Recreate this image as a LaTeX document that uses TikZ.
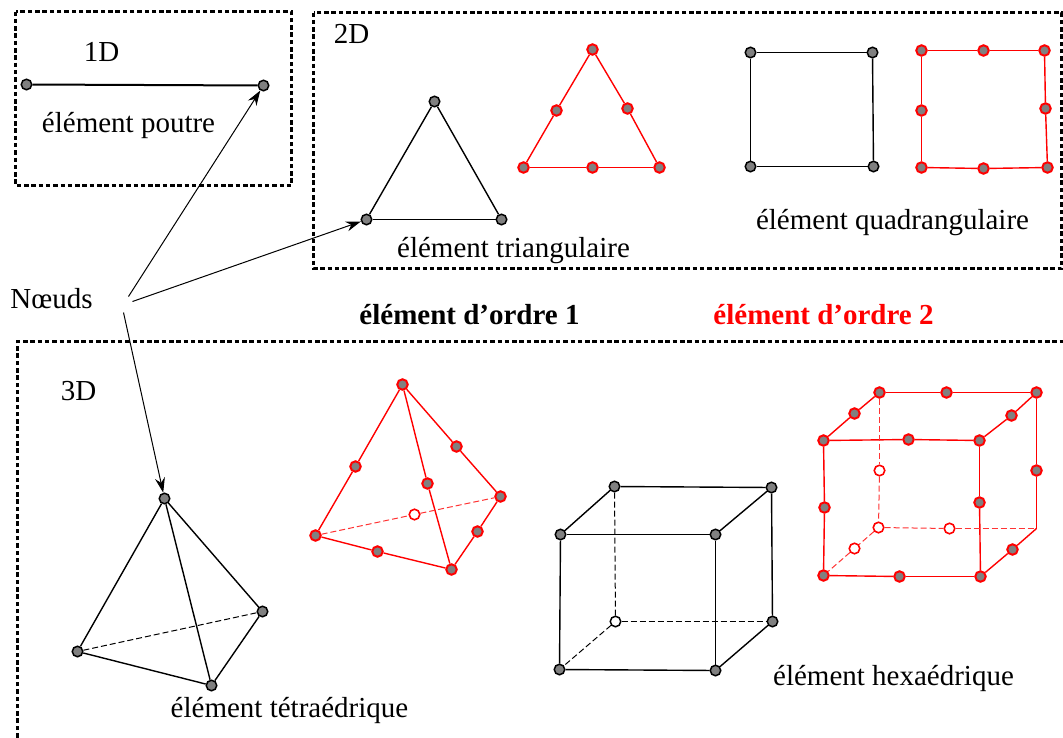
\documentclass[tikz,border=0pt]{standalone}
\usepackage{fontspec}
\setmainfont{Liberation Serif}
\usetikzlibrary{arrows.meta}
\tikzset{
  cadre/.style={line width=2.4pt,dash pattern=on 4.5pt off 2.8pt},
  noir/.style={circle,draw=black,fill=gray,line width=1.5pt,inner sep=0pt,minimum size=10.5pt},
  rouge/.style={circle,draw=red,fill=gray,line width=2pt,inner sep=0pt,minimum size=10.5pt},
  vide/.style={circle,draw=red,fill=white,line width=1.6pt,inner sep=0pt,minimum size=10.5pt},
  videnoir/.style={circle,draw=black,fill=white,line width=1.5pt,inner sep=0pt,minimum size=10.5pt},
  arete/.style={line width=1.4pt},
  cachee/.style={line width=1pt,dash pattern=on 6pt off 3pt},
  texte/.style={font=\fontsize{29}{34}\selectfont,yshift=-1.5pt},
  fleche/.style={-{Stealth[length=15pt,width=10pt,inset=5pt]},line width=1pt}
}
\begin{document}
\begin{tikzpicture}[x=1pt,y=-1pt]
  \useasboundingbox (-0.5,-0.5) rectangle (1062.5,736.5);
  % cadres
  \draw[cadre] (15,11) rectangle (291,185);
  \draw[cadre] (313,12) rectangle (1061,268);
  \draw[cadre] (17,737) -- (17,341) -- (1063,341);

  % textes
  \node[texte] (un) at (101,50) {1D};
  \node[texte] (deux) at (351,32) {2D};
  \node[texte] (trois) at (78,389) {3D};
  \node[texte] (poutre) at (128,124) {élément poutre};
  \node[texte] (triang) at (513,249) {élément triangulaire};
  \node[texte] (quad) at (892,221) {élément quadrangulaire};
  \node[texte] (noeuds) at (51,296.5) {Nœuds};
  \node[texte,font=\fontsize{29}{34}\selectfont\bfseries] (ordreun) at (469,312.5) {élément d’ordre 1};
  \node[texte,font=\fontsize{29}{34}\selectfont\bfseries,text=red] (ordredeux) at (823,312.5) {élément d’ordre 2};
  \node[texte] (tetra) at (289,708) {élément tétraédrique};
  \node[texte] (hexa) at (893,676) {élément hexaédrique};

  % noeuds noirs
  \foreach \n/\x/\y in {p1/26/84,p2/263/85,
    t1/366/219,t2/501/219,t3/434/101,
    q1/750/52,q2/872/52,q3/750/166,q4/873/166,
    a1/164/498,a2/77/651,a3/211/685,a4/262/611,
    c1/560/534,c2/715/534,c3/559/669,c4/715/670,
    c5/614/486,c6/771/487,c8/772/621}
    \node[noir] (\n) at (\x,\y) {};
  \node[videnoir] (c7) at (615,621) {};

  % noeuds rouges
  \foreach \n/\x/\y in {rt1/523/167,rt2/659/167,rt3/592/49,rt4/592/167,rt5/556/110,rt6/627/108,
    rq1/921/50,rq2/1044/50,rq3/921/167,rq4/1047/167,rq5/983/50,rq6/983/168,rq7/921/110,rq8/1045/108,
    ra1/402/384,ra2/315/535,ra3/451/569,ra4/500/496,ra5/355/466,ra6/427/483,ra7/456/446,ra8/377/551,ra9/477/531,
    rc1/823/440,rc2/979/440,rc3/823/575,rc4/980/576,rc5/879/392,rc6/1036/392,
    rc9/908/439,rc10/946/392,rc11/854/413,rc12/1011/415,rc13/824/507,rc14/979/502,
    rc15/1036/470,rc17/899/576,rc18/1012/549}
    \node[rouge] (\n) at (\x,\y) {};
  \foreach \n/\x/\y in {ra10/414/514,rc7/878/527,rc16/879/470,rc19/949/528,rc20/854/548}
    \node[vide] (\n) at (\x,\y) {};
  \coordinate (rc8) at (1036,528);

  % aretes noires
  \draw[line width=2pt] (p1) -- (p2);
  \foreach \a/\b in {t1/t2,t2/t3,t3/t1,q1/q2,q2/q4,q4/q3,q3/q1,
    a1/a2,a1/a3,a1/a4,a2/a3,a3/a4,
    c1/c2,c2/c4,c4/c3,c3/c1,c1/c5,c5/c6,c6/c2,c6/c8,c8/c4}
    \draw[arete] (\a) -- (\b);
  \foreach \a/\b in {a2/a4,c5/c7,c7/c8,c7/c3}
    \draw[cachee] (\a) -- (\b);

  % aretes rouges
  \foreach \a/\b in {rt1/rt4,rt4/rt2,rt2/rt6,rt6/rt3,rt3/rt5,rt5/rt1,
    rq1/rq5,rq5/rq2,rq2/rq8,rq8/rq4,rq4/rq6,rq6/rq3,rq3/rq7,rq7/rq1,
    ra1/ra5,ra5/ra2,ra1/ra6,ra6/ra3,ra1/ra7,ra7/ra4,ra2/ra8,ra8/ra3,ra3/ra9,ra9/ra4,
    rc1/rc9,rc9/rc2,rc2/rc14,rc14/rc4,rc4/rc17,rc17/rc3,rc3/rc13,rc13/rc1,
    rc1/rc11,rc11/rc5,rc5/rc10,rc10/rc6,rc6/rc12,rc12/rc2,rc6/rc15,rc15/rc8,rc8/rc18,rc18/rc4}
    \draw[arete,red] (\a) -- (\b);
  \foreach \a/\b in {ra2/ra10,ra10/ra4,rc5/rc16,rc16/rc7,rc7/rc19,rc19/rc8,rc7/rc20,rc20/rc3}
    \draw[cachee,red!80] (\a) -- (\b);

  % fleches
  \coordinate (n1) at (128,296);
  \coordinate (n2) at (132,301);
  \coordinate (n3) at (123,312);
  \draw[fleche] (n1) -- (p2);
  \draw[fleche] (n2) -- (t1);
  \draw[fleche] (n3) -- (a1);
\end{tikzpicture}
\end{document}
